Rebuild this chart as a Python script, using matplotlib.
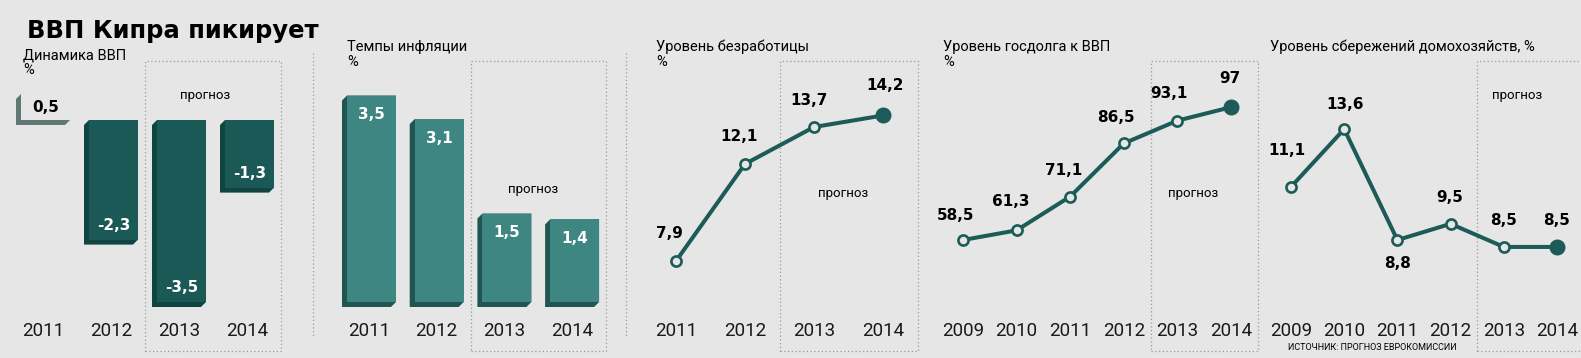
import matplotlib
matplotlib.use("Agg")
import matplotlib.pyplot as plt
import matplotlib.transforms as mtransforms
from matplotlib.patches import Polygon, Rectangle
from matplotlib.lines import Line2D

# данные
years_gdp = ["2011", "2012", "2013", "2014"]
gdp = [0.5, -2.3, -3.5, -1.3]

years_infl = ["2011", "2012", "2013", "2014"]
inflation = [3.5, 3.1, 1.5, 1.4]

years_unemp = ["2011", "2012", "2013", "2014"]
unemployment = [7.9, 12.1, 13.7, 14.2]

years_debt = ["2009", "2010", "2011", "2012", "2013", "2014"]
debt = [58.5, 61.3, 71.1, 86.5, 93.1, 97]

years_sav = ["2009", "2010", "2011", "2012", "2013", "2014"]
savings = [11.1, 13.6, 8.8, 9.5, 8.5, 8.5]

# стиль
BG = "#e6e6e6"
DARK_FACE = "#1b5956"
DARK_SIDE = "#0f4440"
GREY_SIDE = "#5f7874"
LIGHT_FACE = "#3e8682"
LIGHT_SIDE = "#1f5652"
LINE = "#1c5b57"
DOT = "#9a9a9a"
NARROW = ["Roboto", "DejaVu Sans"]

W, H = 1581, 358
T, B = 40, 318  # верх/низ осей в пикселях

fig = plt.figure(figsize=(W / 100, H / 100), dpi=100, facecolor=BG)


def fmt(v):
    return f"{v:g}".replace(".", ",")


def panel(c0, step, years, v0, p0, k):
    n = len(years)
    x0 = c0 - step / 2
    ax = fig.add_axes([x0 / W, 1 - B / H, n * step / W, (B - T) / H])
    ax.set_xlim(-0.5, n - 0.5)
    ax.set_ylim(v0 - (B - p0) / k, v0 + (p0 - T) / k)
    ax.set_facecolor("none")
    for s in ax.spines.values():
        s.set_visible(False)
    ax.set_yticks([])
    ax.set_xticks(range(n), years, fontsize=13.5, family=NARROW, color="#1a1a1a")
    ax.tick_params(axis="x", length=0, pad=3)
    # пунктирная рамка прогноза (2013-2014)
    tr = mtransforms.blended_transform_factory(ax.transData, fig.transFigure)
    ax.add_patch(Rectangle((n - 2.5, 1 - 351 / H), 2, (351 - 61) / H, transform=tr,
                           fill=False, ec=DOT, lw=0.9, ls=(0, (1, 2)), clip_on=False))
    return ax


def bars3d(ax, vals, faces, sides, step, k):
    dx, dy, w = 5 / step, 5 / k, 54 / step
    for i, v in enumerate(vals):
        L, R = i - w / 2, i + w / 2
        lo, hi = min(0, v), max(0, v)
        hull = [(L + dx, hi), (R, hi), (R, lo), (R - dx, lo - dy), (L, lo - dy), (L, hi - dy)]
        ax.add_patch(Polygon(hull, closed=True, fc=sides[i], ec="none"))
        ax.add_patch(Rectangle((L + dx, lo), w - dx, hi - lo, fc=faces[i], ec="none"))


def line_panel(ax, vals, shifts):
    n = len(vals)
    ax.plot(range(n), vals, color=LINE, lw=2.9, marker="o", ms=7.3, mfc=BG, mec=LINE, mew=1.9,
            zorder=3, clip_on=False)
    ax.plot([n - 1], [vals[-1]], "o", ms=10.5, color=LINE, zorder=4, clip_on=False)
    for i, v in enumerate(vals):
        sx, sy = shifts[i]
        ax.annotate(fmt(v), (i, v), xytext=(sx * 0.72, sy * 0.72), textcoords="offset points",
                    ha="center", va="center", fontsize=11, weight="bold", color="black")


# 1. Динамика ВВП
ax1 = panel(43, 68, years_gdp, 0, 120, 52)
bars3d(ax1, gdp, [BG, DARK_FACE, DARK_FACE, DARK_FACE], [GREY_SIDE, DARK_SIDE, DARK_SIDE, DARK_SIDE], 68, 52)
for i, v in enumerate(gdp):
    xf = i + 2.5 / 68
    if v > 0:
        ax1.text(xf, v / 2, fmt(v), ha="center", va="center", fontsize=11, weight="bold", color="black")
    else:
        ax1.annotate(fmt(v), (xf, v), xytext=(0, 14 * 0.72), textcoords="offset points",
                     ha="center", va="center", fontsize=11, weight="bold", color="white")

# 2. Темпы инфляции
ax2 = panel(369, 67.7, years_infl, 0, 302, 59)
bars3d(ax2, inflation, [LIGHT_FACE] * 4, [LIGHT_SIDE] * 4, 67.7, 59)
for i, v in enumerate(inflation):
    ax2.annotate(fmt(v), (i + 2.5 / 67.7, v), xytext=(0, -19 * 0.72), textcoords="offset points",
                 ha="center", va="center", fontsize=11, weight="bold", color="white")

# 3. Безработица
ax3 = panel(676, 69, years_unemp, 7.9, 261, 23.1)
line_panel(ax3, unemployment, [(-7, 27), (-6, 27), (-5, 27), (2, 30)])

# 4. Госдолг
ax4 = panel(963, 53.6, years_debt, 58.5, 240, 3.45)
line_panel(ax4, debt, [(-7, 24), (-6, 29), (-7, 26), (-8, 26), (-8, 27), (-1, 29)])

# 5. Сбережения
ax5 = panel(1291, 53.2, years_sav, 8.8, 240, 23.1)
line_panel(ax5, savings, [(-4, 36), (1, 25), (0, -23), (-1, 26), (0, 26), (0, 26)])

# разделители
for xp in [313, 626]:
    fig.add_artist(Line2D([xp / W, xp / W], [1 - 53 / H, 1 - 338 / H], color=DOT, lw=0.9, ls=(0, (1, 2))))


def ftext(x, y, s, **kw):
    fig.text(x / W, 1 - y / H, s, **kw)


# заголовки
ftext(27, 38, "ВВП Кипра пикирует", fontsize=17.5, weight="bold", family="DejaVu Sans", va="baseline")
ftext(23, 59, "Динамика ВВП", fontsize=10.5, family=NARROW, va="baseline")
ftext(23, 74, "%", fontsize=10.5, family=NARROW, va="baseline")
for xp, s in [(347, "Темпы инфляции"), (656, "Уровень безработицы"), (943, "Уровень госдолга к ВВП")]:
    ftext(xp, 51, s, fontsize=10.5, family=NARROW, va="baseline")
    ftext(xp, 66, "%", fontsize=10.5, family=NARROW, va="baseline")
ftext(1270, 51, "Уровень сбережений домохозяйств, %", fontsize=10.5, family=NARROW, va="baseline")

# прогноз
for xp, yp in [(205, 95), (533, 189), (843, 193), (1193, 193), (1517, 96)]:
    ftext(xp, yp, "прогноз", fontsize=9.5, family=NARROW, ha="center", va="center")

ftext(1288, 348, "ИСТОЧНИК: ПРОГНОЗ ЕВРОКОМИССИИ", fontsize=6.5, family=NARROW, va="center")

fig.savefig("out.png", dpi=100, facecolor=BG)
